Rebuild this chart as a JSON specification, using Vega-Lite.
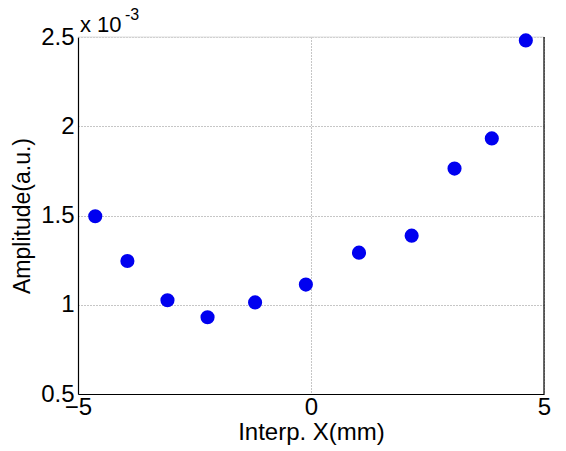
{
  "$schema": "https://vega.github.io/schema/vega-lite/v6.json",
  "width": 466,
  "height": 357,
  "autosize": "none",
  "padding": {"left": 78, "top": 37, "right": 22, "bottom": 57},
  "background": "white",
  "view": {"stroke": null},
  "config": {
    "font": "Liberation Sans",
    "axis": {
      "labelFont": "Liberation Sans",
      "titleFont": "Liberation Sans",
      "labelColor": "black",
      "titleColor": "black",
      "domainColor": "black",
      "domainWidth": 1.2,
      "ticks": false,
      "grid": true,
      "labelOverlap": false,
      "labelFlush": false,
      "labelBound": false,
      "titleFontWeight": "normal",
      "gridColor": "#8c8c8c",
      "gridOpacity": 1,
      "gridDash": [1, 2],
      "gridWidth": 1
    }
  },
  "datasets": {
    "points": [
      {"x": -4.63, "amp": 1.496},
      {"x": -3.94, "amp": 1.245},
      {"x": -3.08, "amp": 1.025},
      {"x": -2.22, "amp": 0.930},
      {"x": -1.20, "amp": 1.013},
      {"x": -0.11, "amp": 1.113},
      {"x": 1.03, "amp": 1.292},
      {"x": 2.16, "amp": 1.387},
      {"x": 3.08, "amp": 1.763},
      {"x": 3.88, "amp": 1.932},
      {"x": 4.61, "amp": 2.481}
    ],
    "one": [{"label": "x 10", "exp": "-3"}]
  },
  "layer": [
    {
      "data": {"name": "one"},
      "mark": {"type": "rule", "color": "#dcdcdc", "strokeWidth": 1},
      "encoding": {"y": {"datum": 2.5}}
    },
    {
      "data": {"name": "one"},
      "mark": {"type": "rule", "color": "black", "strokeWidth": 1.2},
      "encoding": {"x": {"datum": 5}}
    },
    {
      "data": {"name": "points"},
      "mark": {"type": "circle", "size": 200, "color": "#0000f0", "opacity": 1},
      "encoding": {
        "x": {
          "field": "x",
          "type": "quantitative",
          "scale": {"domain": [-5, 5], "nice": false, "zero": false},
          "axis": {
            "values": [-5, 0, 5],
            "grid": true,
            "labelFontSize": 24,
            "labelPadding": 1,
            "title": "Interp. X(mm)",
            "titleFontSize": 24,
            "titlePadding": 1
          }
        },
        "y": {
          "field": "amp",
          "type": "quantitative",
          "scale": {"domain": [0.5, 2.5], "nice": false, "zero": false},
          "axis": {
            "values": [0.5, 1, 1.5, 2, 2.5],
            "grid": true,
            "labelFontSize": 24,
            "labelPadding": 4,
            "labelExpr": "datum.value == 1 ? '1' : datum.value == 2 ? '2' : format(datum.value, '.1f')",
            "title": "Amplitude(a.u.)",
            "titleFontSize": 23,
            "titlePadding": 6
          }
        }
      }
    },
    {
      "data": {"name": "one"},
      "mark": {"type": "text", "fontSize": 22, "fontWeight": "normal", "font": "Liberation Sans", "align": "left", "baseline": "alphabetic", "dx": 2, "dy": -5, "color": "black"},
      "encoding": {"x": {"datum": -5}, "y": {"datum": 2.5}, "text": {"field": "label"}}
    },
    {
      "data": {"name": "one"},
      "mark": {"type": "text", "fontSize": 16, "fontWeight": "normal", "font": "Liberation Sans", "align": "left", "baseline": "alphabetic", "dx": 47, "dy": -17, "color": "black"},
      "encoding": {"x": {"datum": -5}, "y": {"datum": 2.5}, "text": {"field": "exp"}}
    }
  ]
}
